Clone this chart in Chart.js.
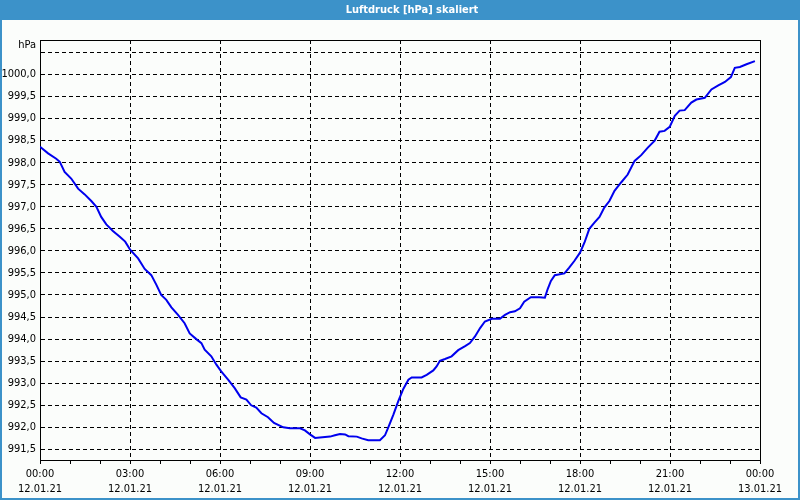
<!DOCTYPE html>
<html>
<head>
<meta charset="utf-8">
<title>Luftdruck [hPa] skaliert</title>
<script src="https://cdn.jsdelivr.net/npm/chart.js@4.4.1/dist/chart.umd.min.js"></script>
<style>
    html, body { margin: 0; padding: 0; background: #fbfdfb; }
</style>
</head>
<body>
<canvas id="pressureChart" width="800" height="500"></canvas>
<script>
// Data for the chart
const chartTitle = 'Luftdruck [hPa] skaliert';
const unitLabel = 'hPa';
const timeLabels = ['00:00', '03:00', '06:00', '09:00', '12:00', '15:00', '18:00', '21:00', '00:00'];
const dateLabels = ['12.01.21', '12.01.21', '12.01.21', '12.01.21', '12.01.21', '12.01.21', '12.01.21', '12.01.21', '13.01.21'];

// hours since 12.01.21 00:00
const hours = [
    0, 0.27, 0.54, 0.66, 0.82, 1.04, 1.27, 1.49, 1.71, 1.88,
    2.04, 2.21, 2.43, 2.66, 2.84, 3.01, 3.27, 3.49, 3.71, 3.88,
    4.04, 4.21, 4.38, 4.60, 4.82, 4.99, 5.21, 5.38, 5.49, 5.71,
    5.88, 6.04, 6.27, 6.49, 6.69, 6.88, 7.04, 7.21, 7.38, 7.60,
    7.80, 8.11, 8.33, 8.67, 8.83, 9.00, 9.17, 9.33, 9.67, 9.83,
    10.00, 10.17, 10.28, 10.56, 10.72, 10.94, 11.33, 11.50, 11.61, 11.78,
    11.94, 12.11, 12.28, 12.39, 12.72, 12.89, 13.11, 13.22, 13.33, 13.50,
    13.72, 13.94, 14.17, 14.33, 14.50, 14.67, 14.83, 15.06, 15.33, 15.50,
    15.67, 15.83, 16.00, 16.14, 16.36, 16.64, 16.83, 16.92, 17.03, 17.16,
    17.48, 17.64, 17.81, 18.00, 18.15, 18.31, 18.48, 18.65, 18.81, 18.98,
    19.15, 19.37, 19.59, 19.82, 20.04, 20.26, 20.49, 20.65, 20.82, 20.99,
    21.16, 21.32, 21.49, 21.71, 21.88, 22.16, 22.38, 22.61, 22.83, 23.03,
    23.16, 23.33, 23.55, 23.83
];
const pressure = [
    998.36, 998.21, 998.09, 998.02, 997.79, 997.64, 997.41, 997.28, 997.13, 997.00,
    996.77, 996.60, 996.45, 996.32, 996.21, 996.02, 995.83, 995.59, 995.45, 995.23,
    995.00, 994.89, 994.72, 994.55, 994.36, 994.13, 994.00, 993.91, 993.76, 993.61,
    993.42, 993.27, 993.08, 992.89, 992.68, 992.63, 992.50, 992.45, 992.32, 992.23,
    992.10, 992.00, 991.98, 991.98, 991.93, 991.84, 991.76, 991.77, 991.79, 991.82,
    991.85, 991.84, 991.80, 991.79, 991.75, 991.71, 991.71, 991.82, 992.00, 992.29,
    992.59, 992.87, 993.08, 993.13, 993.13, 993.19, 993.29, 993.38, 993.51, 993.55,
    993.61, 993.75, 993.84, 993.91, 994.06, 994.25, 994.40, 994.46, 994.46, 994.55,
    994.61, 994.63, 994.70, 994.85, 994.95, 994.95, 994.94, 995.13, 995.32, 995.45,
    995.49, 995.62, 995.77, 995.96, 996.19, 996.50, 996.64, 996.77, 996.98, 997.13,
    997.36, 997.55, 997.73, 998.04, 998.17, 998.34, 998.50, 998.70, 998.72, 998.81,
    999.06, 999.18, 999.19, 999.36, 999.43, 999.47, 999.66, 999.75, 999.83, 999.94,
    1000.15, 1000.17, 1000.23, 1000.30
];

const fontFamily = '"DejaVu Sans Condensed", "Liberation Sans", sans-serif';
const frameBlue = '#3c92c9';

// Window frame, title bar and plot border
const windowFrame = {
    id: 'windowFrame',
    beforeDraw(chart) {
        const c = chart.ctx;
        c.save();
        c.fillStyle = frameBlue;
        c.fillRect(0, 0, chart.width, chart.height);
        c.fillStyle = '#fbfdfb';
        c.fillRect(2, 20, chart.width - 4, chart.height - 22);
        c.fillStyle = '#ffffff';
        c.font = 'bold 11px ' + fontFamily;
        c.textAlign = 'center';
        c.textBaseline = 'middle';
        c.fillText(chartTitle, 412, 10);
        c.restore();
    },
    afterDraw(chart) {
        const c = chart.ctx;
        const a = chart.chartArea;
        c.save();
        c.strokeStyle = '#000';
        c.lineWidth = 1;
        c.beginPath();
        c.moveTo(Math.round(a.left), Math.round(a.top) + 0.5);
        c.lineTo(Math.round(a.right) + 0.5, Math.round(a.top) + 0.5);
        c.lineTo(Math.round(a.right) + 0.5, Math.round(a.bottom));
        c.stroke();
        c.fillStyle = '#000';
        c.font = '11px ' + fontFamily;
        c.textAlign = 'right';
        c.textBaseline = 'middle';
        c.fillText(unitLabel, 36, 45);
        c.restore();
    }
};

const ctxPressure = document.getElementById('pressureChart').getContext('2d');
const pressureChart = new Chart(ctxPressure, {
    type: 'line',
    data: {
        datasets: [{
            label: chartTitle,
            data: hours.map((h, i) => ({ x: h, y: pressure[i] })),
            borderColor: '#0000ee',
            borderWidth: 2,
            pointRadius: 0,
            tension: 0,
            fill: false
        }]
    },
    options: {
        responsive: false,
        animation: false,
        layout: {
            padding: { top: 40, right: 40, left: 0, bottom: 0 }
        },
        plugins: {
            legend: { display: false },
            tooltip: { enabled: false },
            title: { display: false }
        },
        scales: {
            x: {
                type: 'linear',
                min: 0,
                max: 24,
                afterFit: (scale) => { scale.height = 40; },
                grid: {
                    color: (ctx) => (ctx.tick && ctx.tick.value % 3 === 0) ? '#000' : 'rgba(0,0,0,0)',
                    tickColor: '#000',
                    tickLength: 4,
                    lineWidth: 1
                },
                border: { color: '#000', dash: [4, 3] },
                ticks: {
                    stepSize: 1,
                    autoSkip: false,
                    maxRotation: 0,
                    padding: 3,
                    color: '#000',
                    font: { family: fontFamily, size: 11, lineHeight: 1.35 },
                    callback: (value) => {
                        if (value % 3 !== 0) return '';
                        const i = value / 3;
                        return [timeLabels[i], dateLabels[i]];
                    }
                }
            },
            y: {
                min: 991.26,
                max: 1000.78,
                afterFit: (scale) => { scale.width = 40; },
                grid: {
                    color: '#000',
                    drawTicks: false,
                    lineWidth: 1
                },
                border: { color: '#000', dash: [4, 3] },
                ticks: {
                    stepSize: 0.5,
                    includeBounds: false,
                    padding: 4,
                    color: '#000',
                    font: { family: fontFamily, size: 11 },
                    callback: (value) => value > 1000.2 ? '' : value.toFixed(1).replace('.', ',')
                }
            }
        }
    },
    plugins: [windowFrame]
});
</script>
</body>
</html>
